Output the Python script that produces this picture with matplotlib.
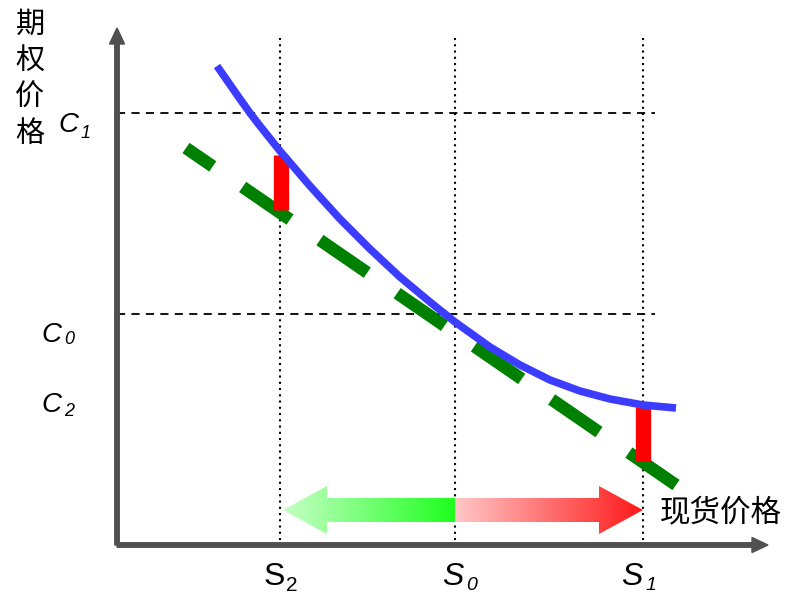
import numpy as np
import matplotlib
matplotlib.use('Agg')
import matplotlib.pyplot as plt
from matplotlib.patches import Polygon
from matplotlib.colors import LinearSegmentedColormap

plt.rcParams['font.family'] = ['Noto Sans CJK SC', 'DejaVu Sans']

# Данные схемы (в пикселях картинки, ось y вниз)
s_pos = [280, 455, 643]            # S2, S0, S1
s_subs = ['2', '0', '1']
c_pos = [113, 314]                 # C1, C0
c_subs = ['1', '0', '2']

# цена опциона (выпуклая кривая)
curve_x = [217, 240, 250, 260, 280, 310, 340, 370, 400, 430, 455,
           490, 520, 550, 580, 610, 643, 676]
curve_y = [66, 99, 113, 126, 151, 186, 219, 249, 277, 302, 322,
           347, 365, 380, 391, 399, 405, 408]

# касательная (дельта)
tan_x = [186, 676]
tan_y = [148, 485]

# зазор между кривой и касательной
gap_x = [281, 643]
gap_top = [155, 407]
gap_bot = [210, 461]

fig = plt.figure(figsize=(7.88, 5.96), dpi=100)
ax = fig.add_axes([0, 0, 1, 1])
ax.set_xlim(0, 788)
ax.set_ylim(596, 0)
ax.axis('off')

axis_col = '#505050'

# вертикальные пунктиры
for s in s_pos:
    ax.plot([s, s], [38, 545], color='black', lw=1.5, linestyle=(0, (1, 2)), zorder=1)

# горизонтальные штрихи
for c in c_pos:
    ax.plot([117, 655], [c, c], color='black', lw=1.3, linestyle=(0, (4.5, 3.5)), zorder=1)

# стрелки-градиенты
y_mid, shaft, head_h, head_l = 510, 12, 24, 44
x_l, x_c, x_r = s_pos[0] + 3, s_pos[1], s_pos[2]

green_cmap = LinearSegmentedColormap.from_list('g', [(0.78, 1, 0.78), (0.12, 1, 0.12)])
red_cmap = LinearSegmentedColormap.from_list('r', [(1, 0.78, 0.78), (1, 0.1, 0.1)])
grad = np.linspace(0, 1, 256).reshape(1, -1)

left_poly = Polygon([(x_l, y_mid), (x_l + head_l, y_mid - head_h), (x_l + head_l, y_mid - shaft),
                     (x_c, y_mid - shaft), (x_c, y_mid + shaft), (x_l + head_l, y_mid + shaft),
                     (x_l + head_l, y_mid + head_h)], closed=True, fc='none', ec='none')
ax.add_patch(left_poly)
im = ax.imshow(grad, cmap=green_cmap, extent=[x_l, x_c, y_mid + head_h, y_mid - head_h],
               aspect='auto', zorder=2)
im.set_clip_path(left_poly)

right_poly = Polygon([(x_r, y_mid), (x_r - head_l, y_mid - head_h), (x_r - head_l, y_mid - shaft),
                      (x_c, y_mid - shaft), (x_c, y_mid + shaft), (x_r - head_l, y_mid + shaft),
                      (x_r - head_l, y_mid + head_h)], closed=True, fc='none', ec='none')
ax.add_patch(right_poly)
im2 = ax.imshow(grad, cmap=red_cmap, extent=[x_c, x_r, y_mid + head_h, y_mid - head_h],
                aspect='auto', zorder=2)
im2.set_clip_path(right_poly)

# касательная
ax.plot(tan_x, tan_y, color='#008000', lw=9, linestyle=(2, (4.6, 2.9)),
        dash_capstyle='butt', zorder=3)

# красные зазоры
for gx, gt, gb in zip(gap_x, gap_top, gap_bot):
    ax.plot([gx, gx], [gt, gb], color='#ff0000', lw=11, solid_capstyle='butt', zorder=4)

# кривая
ax.plot(curve_x, curve_y, color='#3c3cff', lw=5.5, solid_capstyle='butt',
        solid_joinstyle='round', zorder=5)

# оси
ax.arrow(117, 545, 0, -501, width=4.5, head_width=15, head_length=16,
         color=axis_col, length_includes_head=False, zorder=6)
ax.arrow(117, 545, 635, 0, width=4.5, head_width=15, head_length=16,
         color=axis_col, length_includes_head=False, zorder=6)

# подписи
ax.text(30, 10, '期\n权\n价\n格', fontsize=21, ha='center', va='top', linespacing=1.27)
ax.text(660, 513, '现货价格', fontsize=22, ha='left', va='center')

lat = dict(family='Liberation Sans', va='baseline', ha='left')

# C1, C0, C2
c_xy = [(58, 132), (41, 342), (41, 412)]
c_sub_dy = [6, 2, 4]
for (cx, cy), sub, dy in zip(c_xy, c_subs, c_sub_dy):
    ax.text(cx, cy, 'C', fontsize=20, style='italic', **lat)
    ax.text(cx + 23, cy + dy, sub, fontsize=13, style='italic', **lat)

# S2, S0, S1
s_dx = [-16, -13, -22]
s_sub_dx = [6, 11, 3]
s_sub_size = [15, 14, 14]
s_sub_dy = [6, 5, 5]
s_style = ['normal', 'italic', 'italic']
for s, sub, dx, sdx, fs, dy, st in zip(s_pos, s_subs, s_dx, s_sub_dx, s_sub_size,
                                       s_sub_dy, s_style):
    ax.text(s + dx, 585, 'S', fontsize=23, style=st, **lat)
    ax.text(s + sdx, 585 + dy, sub, fontsize=fs, style=st, **lat)

fig.savefig('out.png', dpi=100)
